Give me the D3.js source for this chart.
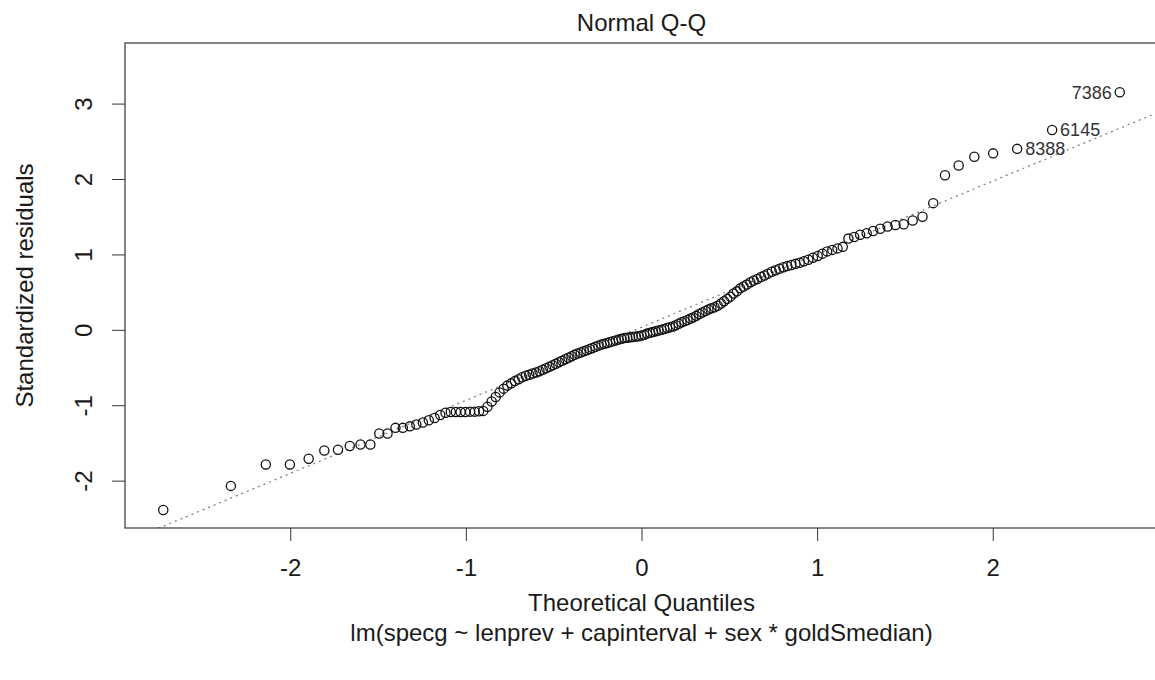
<!DOCTYPE html>
<html>
<head>
<meta charset="utf-8">
<script src="https://d3js.org/d3.v7.min.js"></script>
<style>
  body { margin: 0; background: #fff; }
  svg text { font-family: "Liberation Sans", Arial, sans-serif; fill: #1a1a1a; }
</style>
</head>
<body>
<svg id="chart"></svg>
<script>
// theoretical normal quantiles, one per observation (n = 155)
const theoretical = [
  -2.723, -2.338, -2.139, -2.002, -1.895, -1.806, -1.728, -1.661, -1.600, -1.544,
  -1.493, -1.446, -1.401, -1.359, -1.319, -1.282, -1.245, -1.211, -1.178, -1.146,
  -1.116, -1.086, -1.057, -1.030, -1.003, -0.976, -0.950, -0.925, -0.901, -0.877,
  -0.853, -0.830, -0.808, -0.785, -0.764, -0.742, -0.721, -0.700, -0.680, -0.659,
  -0.639, -0.620, -0.600, -0.581, -0.562, -0.543, -0.524, -0.506, -0.488, -0.470,
  -0.452, -0.434, -0.416, -0.398, -0.381, -0.364, -0.346, -0.329, -0.312, -0.295,
  -0.279, -0.262, -0.245, -0.228, -0.212, -0.195, -0.179, -0.162, -0.146, -0.130,
  -0.114, -0.097, -0.081, -0.065, -0.049, -0.032, -0.016,
  0,
  0.016, 0.032, 0.049, 0.065, 0.081, 0.097, 0.114, 0.130, 0.146, 0.162,
  0.179, 0.195, 0.212, 0.228, 0.245, 0.262, 0.279, 0.295, 0.312, 0.329,
  0.346, 0.364, 0.381, 0.398, 0.416, 0.434, 0.452, 0.470, 0.488, 0.506,
  0.524, 0.543, 0.562, 0.581, 0.600, 0.620, 0.639, 0.659, 0.680, 0.700,
  0.721, 0.742, 0.764, 0.785, 0.808, 0.830, 0.853, 0.877, 0.901, 0.925,
  0.950, 0.976, 1.003, 1.030, 1.057, 1.086, 1.116, 1.146, 1.178, 1.211,
  1.245, 1.282, 1.319, 1.359, 1.401, 1.446, 1.493, 1.544, 1.600, 1.661,
  1.728, 1.806, 1.895, 2.002, 2.139, 2.338, 2.723
];

// sorted standardized residuals
const residuals = [
  -2.39, -2.07, -1.785, -1.785, -1.71, -1.60, -1.59, -1.54, -1.52, -1.52,
  -1.375, -1.375, -1.30, -1.30, -1.28, -1.255, -1.23, -1.20, -1.17, -1.13,
  -1.10, -1.09, -1.09, -1.09, -1.09, -1.085, -1.085, -1.08, -1.075, -1.02,
  -0.95, -0.89, -0.83, -0.78, -0.74, -0.71, -0.68, -0.655, -0.63, -0.61,
  -0.595, -0.58, -0.565, -0.55, -0.53, -0.51, -0.49, -0.47, -0.45, -0.43,
  -0.41, -0.39, -0.37, -0.35, -0.33, -0.315, -0.30, -0.285, -0.27, -0.255,
  -0.24, -0.225, -0.21, -0.195, -0.185, -0.175, -0.16, -0.15, -0.14, -0.13,
  -0.12, -0.11, -0.105, -0.10, -0.095, -0.09, -0.085, -0.075, -0.065, -0.05,
  -0.04, -0.03, -0.02, -0.01, 0.00, 0.01, 0.025, 0.035, 0.045, 0.06,
  0.08, 0.10, 0.115, 0.13, 0.15, 0.165, 0.185, 0.21, 0.23, 0.25,
  0.27, 0.285, 0.30, 0.32, 0.35, 0.38, 0.41, 0.44, 0.48, 0.51,
  0.55, 0.575, 0.60, 0.63, 0.655, 0.675, 0.70, 0.72, 0.745, 0.77,
  0.79, 0.81, 0.83, 0.845, 0.86, 0.875, 0.89, 0.91, 0.93, 0.955,
  0.98, 1.01, 1.04, 1.06, 1.08, 1.10, 1.21, 1.23, 1.26, 1.28,
  1.31, 1.34, 1.37, 1.39, 1.40, 1.45, 1.50, 1.68, 2.05, 2.18,
  2.295, 2.34, 2.40, 2.65, 3.15
];

// ids of the three largest |residuals|, largest first
const idLabels = ["7386", "6145", "8388"];

const xTicks = [-2, -1, 0, 1, 2];
const yTicks = [-2, -1, 0, 1, 2, 3];
const quartileZ = [-0.6745, 0.6745];

const width = 1155;
const height = 680;
const plot = { left: 125, right: 1158, top: 43, bottom: 528 };
const cx = (plot.left + plot.right) / 2;

const svg = d3.select("#chart").attr("width", width).attr("height", height);

// R pads each axis range by 4%
function padRange(lo, hi) {
  const e = (hi - lo) * 0.04;
  return [lo - e, hi + e];
}

const xlim = padRange(d3.min(theoretical), d3.max(theoretical));
const yr = d3.extent(residuals);
yr[1] += (yr[1] - yr[0]) * 0.075; // plot.lm leaves room above for the id labels
const ylim = padRange(yr[0], yr[1]);

const x = d3.scaleLinear().domain(xlim).range([plot.left, plot.right]);
const y = d3.scaleLinear().domain(ylim).range([plot.bottom, plot.top]);

svg.append("clipPath").attr("id", "plot-clip")
  .append("rect")
  .attr("x", plot.left).attr("y", plot.top)
  .attr("width", plot.right - plot.left).attr("height", plot.bottom - plot.top);

// axes
const xAxis = svg.append("g")
  .attr("transform", `translate(0,${plot.bottom})`)
  .call(d3.axisBottom(x).tickValues(xTicks).tickSize(13).tickFormat((d) => String(d)))
  .attr("color", "#333")
  .attr("font-size", 24);
xAxis.select(".domain").remove();
xAxis.selectAll("text").attr("y", 48).attr("dy", 0);

const yAxis = svg.append("g")
  .attr("transform", `translate(${plot.left},0)`)
  .call(d3.axisLeft(y).tickValues(yTicks).tickSize(13).tickFormat((d) => String(d)))
  .attr("color", "#333")
  .attr("font-size", 24);
yAxis.select(".domain").remove();
yAxis.selectAll("text")
  .attr("transform", "rotate(-90)")
  .attr("x", 0)
  .attr("y", -33)
  .attr("dy", 0)
  .attr("text-anchor", "middle");

// qqline through the quartiles
const sorted = residuals.slice().sort(d3.ascending);
const q = [d3.quantile(sorted, 0.25), d3.quantile(sorted, 0.75)];
const slope = (q[1] - q[0]) / (quartileZ[1] - quartileZ[0]);
const intercept = q[0] - slope * quartileZ[0];

svg.append("line")
  .attr("clip-path", "url(#plot-clip)")
  .attr("x1", x(xlim[0]))
  .attr("y1", y(intercept + slope * xlim[0]))
  .attr("x2", x(xlim[1]))
  .attr("y2", y(intercept + slope * xlim[1]))
  .attr("stroke", "#808080")
  .attr("stroke-width", 1.3)
  .attr("stroke-dasharray", "2,4");

// points
svg.append("g")
  .selectAll("circle")
  .data(theoretical)
  .join("circle")
  .attr("cx", (d) => x(d))
  .attr("cy", (d, i) => y(residuals[i]))
  .attr("r", 4.6)
  .attr("fill", "none")
  .attr("stroke", "#111")
  .attr("stroke-width", 1.3);

// id labels for the 3 most extreme points
const extreme = d3.range(residuals.length)
  .sort((a, b) => Math.abs(residuals[b]) - Math.abs(residuals[a]))
  .slice(0, 3);
const xs = extreme.map((i) => theoretical[i]);
const midX = (d3.min(xs) + d3.max(xs)) / 2;

svg.append("g")
  .selectAll("text")
  .data(extreme)
  .join("text")
  .attr("x", (i) => (theoretical[i] > midX ? x(theoretical[i]) - 8 : x(theoretical[i]) + 8))
  .attr("y", (i) => y(residuals[i]))
  .attr("dy", "0.36em")
  .attr("text-anchor", (i) => (theoretical[i] > midX ? "end" : "start"))
  .attr("font-size", 18)
  .style("fill", "#333")
  .text((i, k) => idLabels[k]);

// box
svg.append("rect")
  .attr("x", plot.left).attr("y", plot.top)
  .attr("width", plot.right - plot.left).attr("height", plot.bottom - plot.top)
  .attr("fill", "none")
  .attr("stroke", "#333")
  .attr("stroke-width", 1.2);

// titles
svg.append("text")
  .attr("x", cx).attr("y", 31)
  .attr("text-anchor", "middle").attr("font-size", 24)
  .text("Normal Q-Q");

svg.append("text")
  .attr("x", cx).attr("y", 611)
  .attr("text-anchor", "middle").attr("font-size", 24)
  .text("Theoretical Quantiles");

svg.append("text")
  .attr("x", cx).attr("y", 641)
  .attr("text-anchor", "middle").attr("font-size", 24)
  .text("lm(specg ~ lenprev + capinterval + sex * goldSmedian)");

svg.append("text")
  .attr("transform", `translate(33,${(plot.top + plot.bottom) / 2}) rotate(-90)`)
  .attr("text-anchor", "middle").attr("font-size", 24)
  .text("Standardized residuals");
</script>
</body>
</html>
